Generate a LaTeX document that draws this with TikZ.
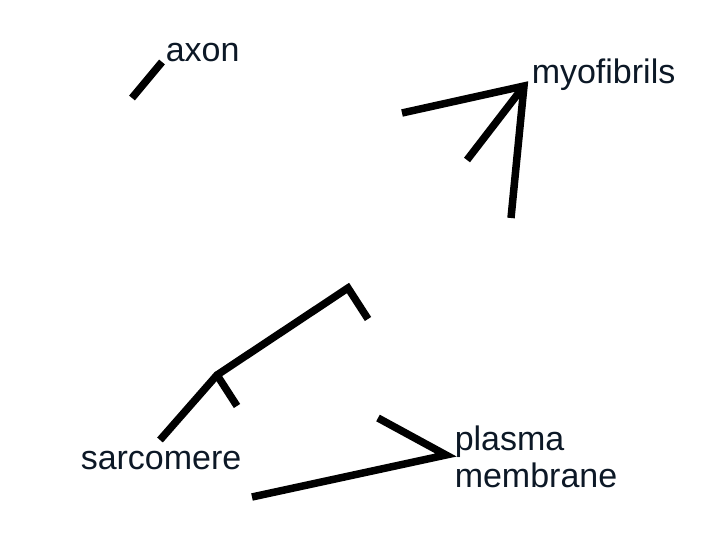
\documentclass[tikz,border=0pt]{standalone}
\usepackage{fontspec}
\setmainfont{Liberation Sans}
\definecolor{labelink}{RGB}{12,24,38}

\begin{document}
\begin{tikzpicture}[x=1pt,y=-1pt,line width=7.5pt,
  label node/.style={inner sep=0pt,anchor=base west,text=labelink,
    font=\fontsize{34}{37}\selectfont}]
  \useasboundingbox (0,0) rectangle (720,540);
  \node[label node] (axon) at (162,62) {axon};
  \node[label node] (myo) at (528,84) {myofibrils};
  \node[label node] (sarc) at (77,469) {sarcomere};
  \node[label node,align=left] (plasma) at (451,487) {plasma\\membrane};

  \coordinate (axon tip) at (162,62);
  \coordinate (axon end) at (132,98);
  \coordinate (myo tip) at (524,86);
  \coordinate (myo a) at (402,113);
  \coordinate (myo b) at (467,160);
  \coordinate (myo c) at (511,218);
  \coordinate (sarc a) at (160,440);
  \coordinate (sarc joint) at (217,375);
  \coordinate (sarc tick) at (237,406);
  \coordinate (sarc top) at (348,288);
  \coordinate (sarc tick2) at (368,319);
  \coordinate (plasma tip) at (446,455);
  \coordinate (plasma a) at (378,418);
  \coordinate (plasma b) at (252,497);

  \draw (axon end) -- (axon tip);
  \draw (myo a) -- (myo tip) -- (myo c);
  \draw (myo b) -- (myo tip);
  \draw (sarc a) -- (sarc joint) -- (sarc top) -- (sarc tick2);
  \draw (sarc joint) -- (sarc tick);
  \draw (plasma a) -- (plasma tip) -- (plasma b);
\end{tikzpicture}
\end{document}
